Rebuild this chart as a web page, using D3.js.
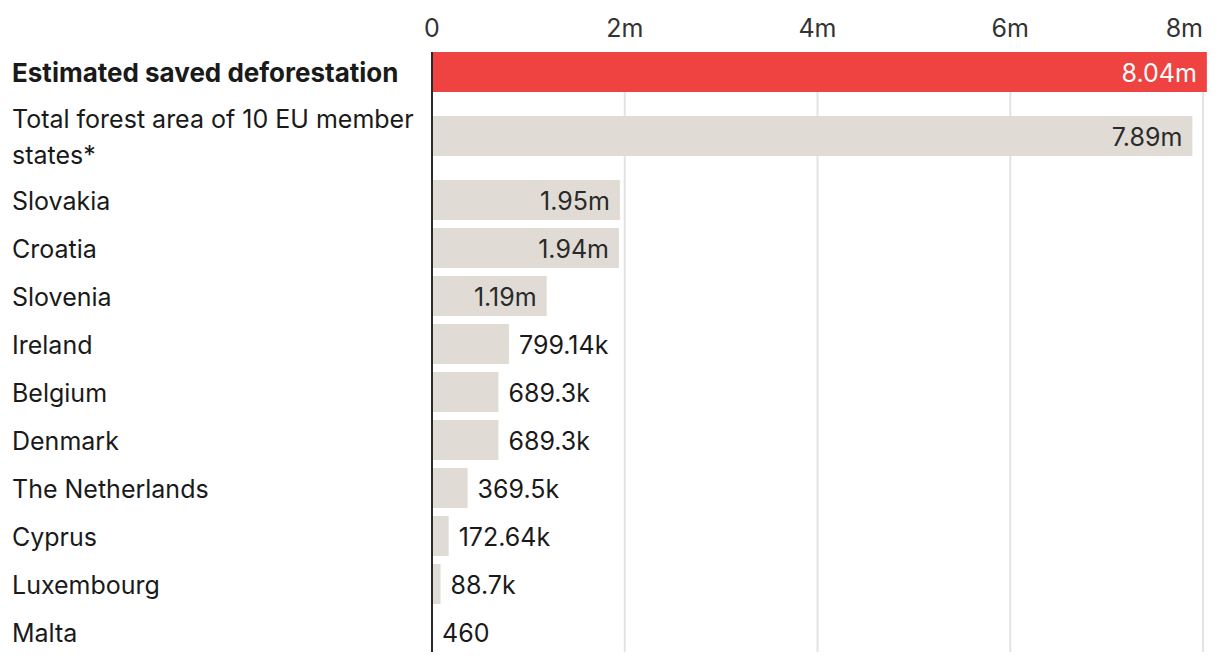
<!DOCTYPE html>
<html>
<head>
<meta charset="utf-8">
<script src="https://cdn.jsdelivr.net/npm/d3@7"></script>
<style>
  body { margin: 0; background: #fff; }
  svg { display: block; font-family: Inter, "Noto Sans", sans-serif; }
</style>
</head>
<body>
<svg width="1220" height="662"></svg>
<script>
// data
const categories = [
    ["Estimated saved deforestation"],
    ["Total forest area of 10 EU member", "states*"],
    ["Slovakia"],
    ["Croatia"],
    ["Slovenia"],
    ["Ireland"],
    ["Belgium"],
    ["Denmark"],
    ["The Netherlands"],
    ["Cyprus"],
    ["Luxembourg"],
    ["Malta"]
];
const values = [8040000, 7890000, 1950000, 1940000, 1190000, 799140, 689300, 689300, 369500, 172640, 88700, 460];
const highlighted = [0];
const tickValues = [0, 2000000, 4000000, 6000000, 8000000];
const tickLabels = ["0", "2m", "4m", "6m", "8m"];

const svg = d3.select("svg");
const fontSize = 25;

const x = d3.scaleLinear().domain([0, 8000000]).range([432, 1203]);

// row layout: bars are 40 tall, 8 apart, extra room for wrapped labels
let rowTop = 52;
const rows = categories.map(function(lines, i) {
    const extra = (lines.length - 1) * 16;
    const r = { y: rowTop + extra, lines: lines, value: values[i], i: i };
    rowTop += 48 + extra * 2;
    return r;
});
const bottom = 652;

function fmt(v) {
    if (v >= 1e6) return +(v / 1e6).toFixed(2) + "m";
    if (v >= 1e3) return +(v / 1e3).toFixed(2) + "k";
    return String(v);
}

// gridlines
svg.append("g")
    .selectAll("line").data(tickValues.slice(1)).enter()
    .append("line")
    .attr("x1", function(d) { return x(d); })
    .attr("x2", function(d) { return x(d); })
    .attr("y1", 52)
    .attr("y2", bottom)
    .attr("stroke", "#e3e3e3")
    .attr("stroke-width", 2);

// tick labels on top
svg.append("g")
    .selectAll("text").data(tickValues).enter()
    .append("text")
    .attr("x", function(d) { return x(d); })
    .attr("y", 37)
    .attr("text-anchor", function(d, i) { return i === tickValues.length - 1 ? "end" : "middle"; })
    .attr("font-size", fontSize + "px")
    .attr("fill", "#333")
    .text(function(d, i) { return tickLabels[i]; });

// bars
svg.append("g")
    .selectAll("rect").data(rows).enter()
    .append("rect")
    .attr("x", x(0))
    .attr("y", function(d) { return d.y; })
    .attr("width", function(d) { return x(d.value) - x(0); })
    .attr("height", 40)
    .attr("fill", function(d) { return highlighted.includes(d.i) ? "#ee4340" : "#e0dcd5"; });

// category labels
const labels = svg.append("g")
    .selectAll("text").data(rows).enter()
    .append("text")
    .attr("x", 12)
    .attr("font-size", function(d) { return (highlighted.includes(d.i) ? 26 : fontSize) + "px"; })
    .attr("font-weight", function(d) { return highlighted.includes(d.i) ? 700 : 400; })
    .attr("fill", "#1a1a1a");
labels.each(function(d) {
    const t = d3.select(this);
    const n = d.lines.length;
    d.lines.forEach(function(line, k) {
        t.append("tspan")
            .attr("x", 12)
            .attr("y", d.y + 20 + 10 - (n - 1) * 18 + k * 36)
            .text(line);
    });
});

// value labels: inside the bar if they fit, else just after it
svg.append("g")
    .selectAll("text").data(rows).enter()
    .append("text")
    .attr("y", function(d) { return d.y + 30; })
    .attr("font-size", fontSize + "px")
    .text(function(d) { return fmt(d.value); })
    .each(function(d) {
        const w = this.getComputedTextLength();
        const barW = x(d.value) - x(0);
        const t = d3.select(this);
        if (w + 20 < barW) {
            t.attr("x", x(d.value) - 10)
                .attr("text-anchor", "end")
                .attr("fill", highlighted.includes(d.i) ? "#fff" : "#2a2a2a");
        } else {
            t.attr("x", x(d.value) + 10)
                .attr("fill", "#1a1a1a");
        }
    });

// zero axis
svg.append("line")
    .attr("x1", x(0))
    .attr("x2", x(0))
    .attr("y1", 52)
    .attr("y2", bottom)
    .attr("stroke", "#2a2a2a")
    .attr("stroke-width", 2);
</script>
</body>
</html>
